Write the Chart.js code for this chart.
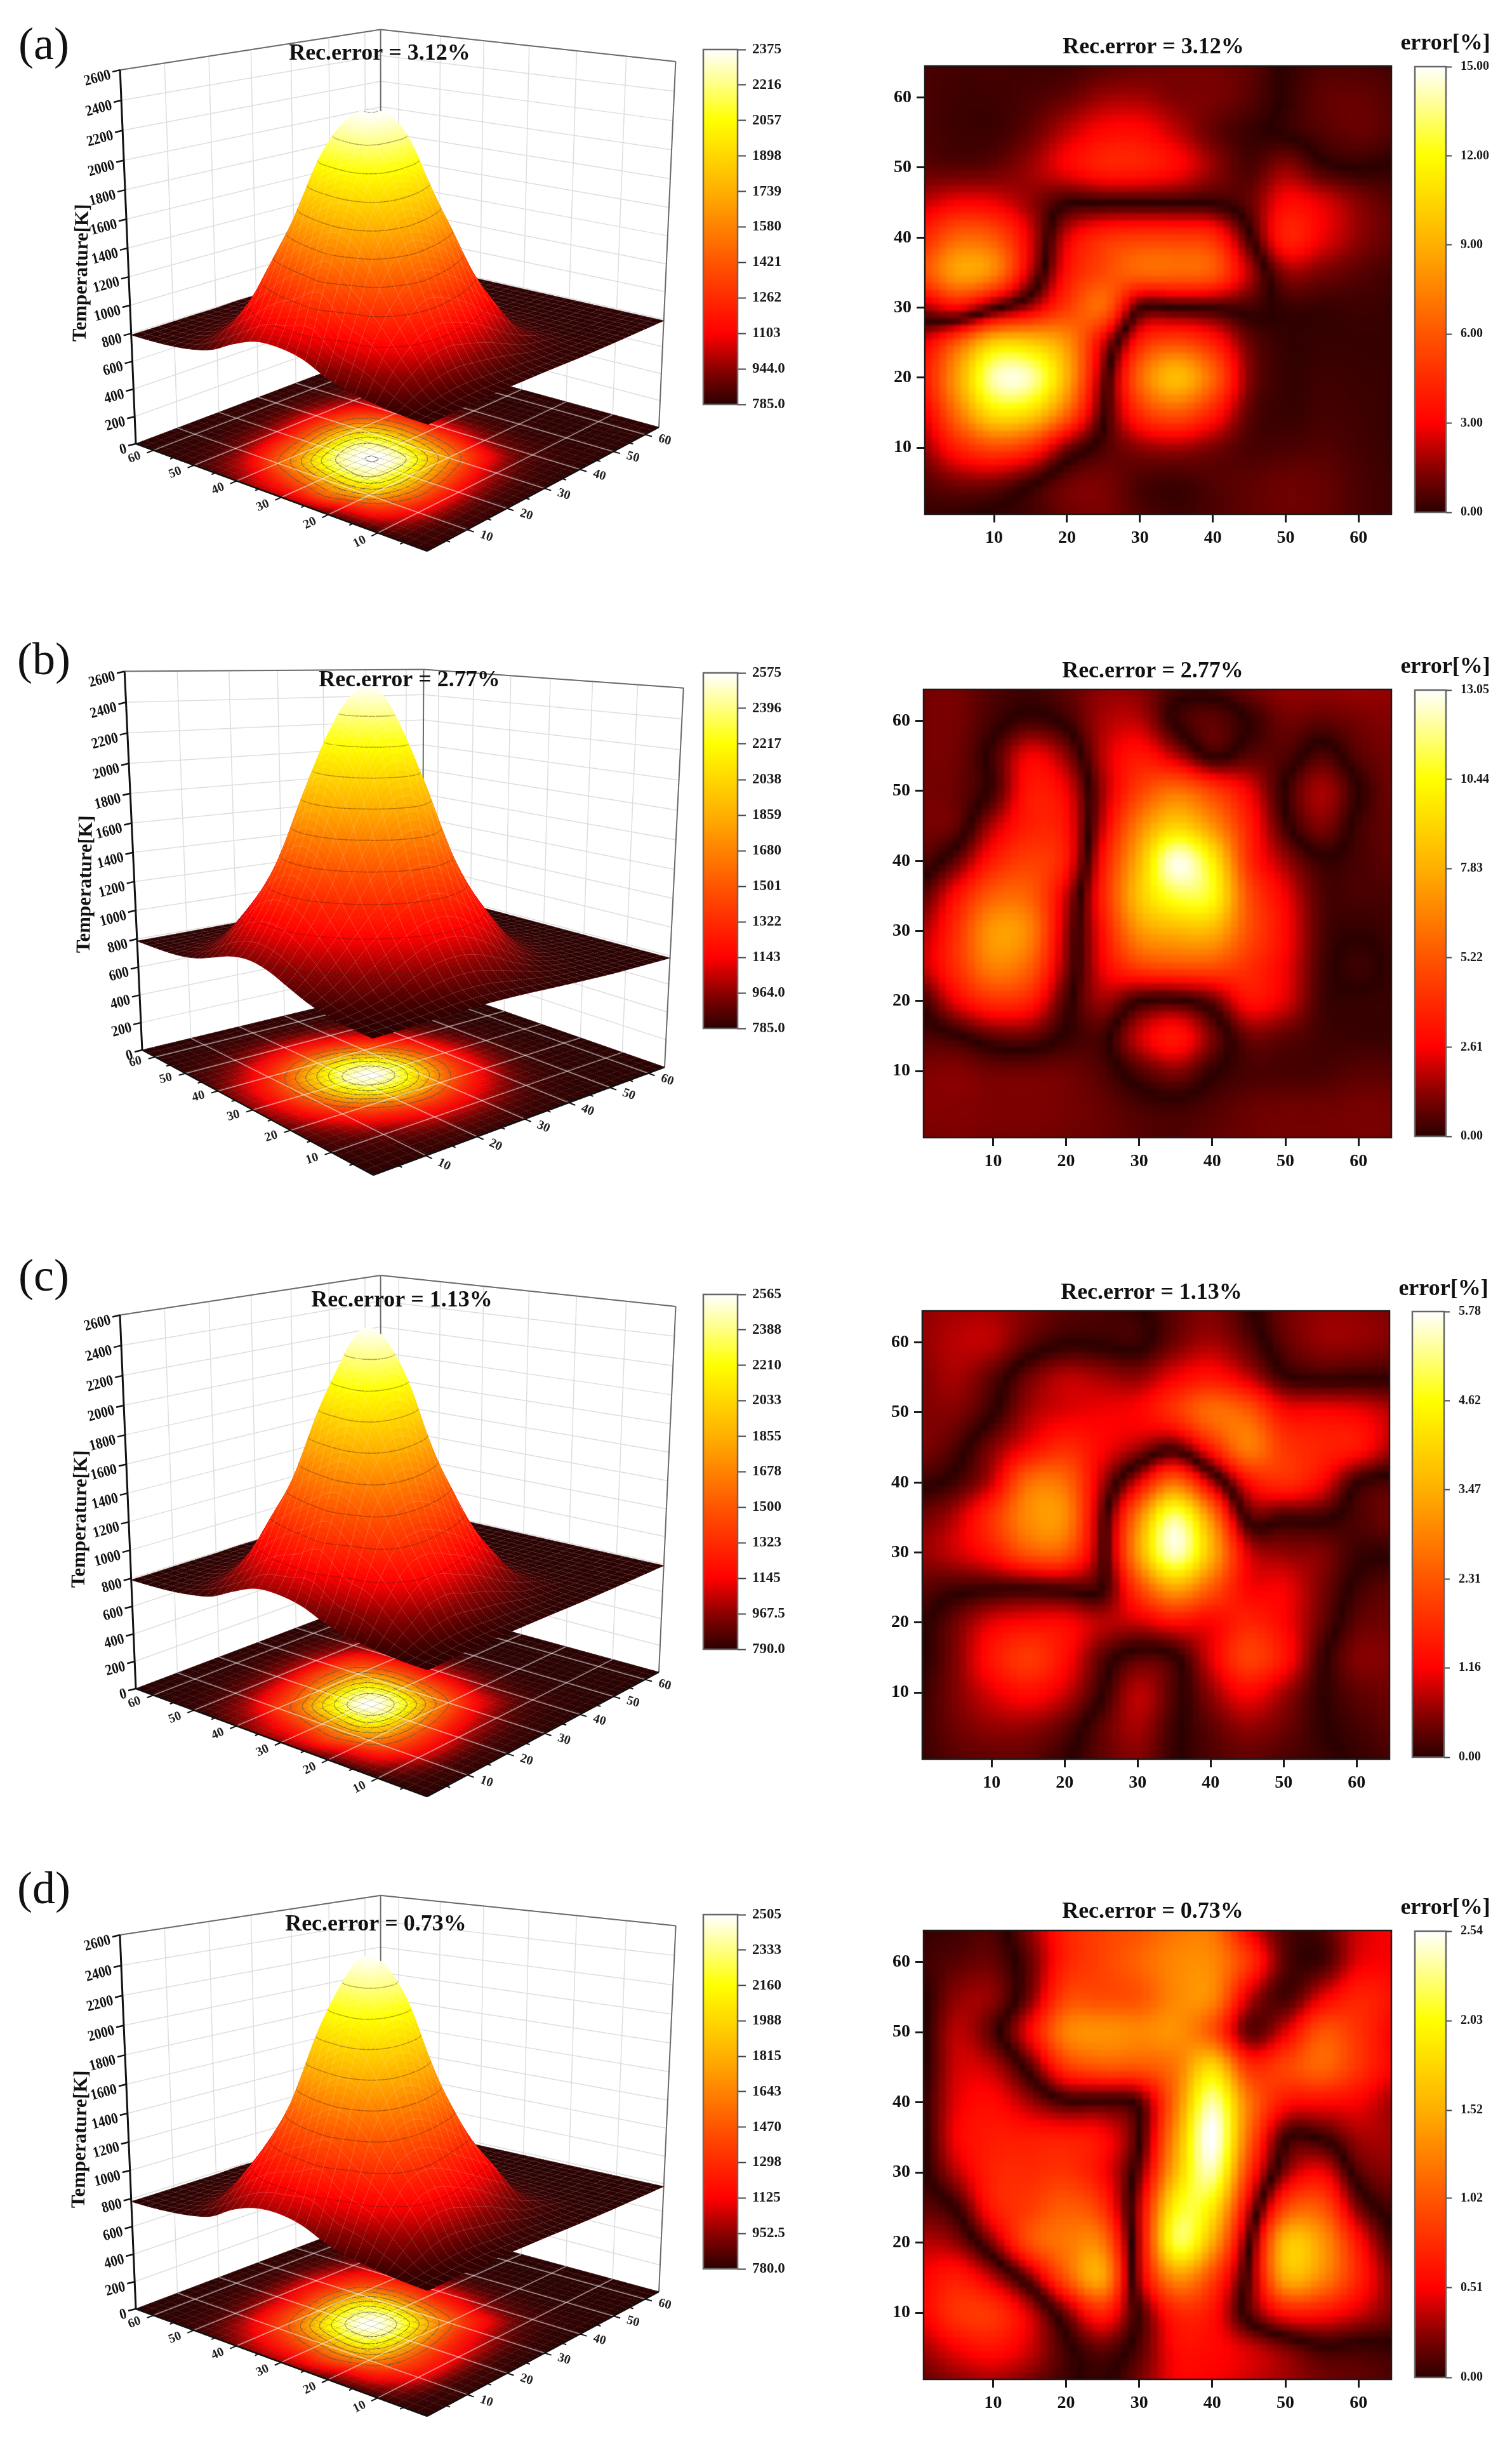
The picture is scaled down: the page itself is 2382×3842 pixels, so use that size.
<!DOCTYPE html>
<html><head><meta charset="utf-8">
<style>html,body{margin:0;padding:0;background:#fff;width:2382px;height:3842px;overflow:hidden}canvas{position:absolute;display:block}</style>
<script src="https://cdn.jsdelivr.net/npm/chart.js@4"></script>
</head><body>
<script>
// ---------- values ----------
const gridX=[0,5,10,15,20,25,30,35,40,45,50,55,60,65];
const gridY=[65,60,55,50,45,40,35,30,25,20,15,10,5,0];
const axisTicks=[10,20,30,40,50,60];
const tempAxisTicks=[0,200,400,600,800,1000,1200,1400,1600,1800,2000,2200,2400,2600];

const tempLabelsA=['785.0','944.0','1103','1262','1421','1580','1739','1898','2057','2216','2375'];
const tempLabelsB=['785.0','964.0','1143','1322','1501','1680','1859','2038','2217','2396','2575'];
const tempLabelsC=['790.0','967.5','1145','1323','1500','1678','1855','2033','2210','2388','2565'];
const tempLabelsD=['780.0','952.5','1125','1298','1470','1643','1815','1988','2160','2333','2505'];
const errLabelsA=['0.00','3.00','6.00','9.00','12.00','15.00'];
const errLabelsB=['0.00','2.61','5.22','7.83','10.44','13.05'];
const errLabelsC=['0.00','1.16','2.31','3.47','4.62','5.78'];
const errLabelsD=['0.00','0.51','1.02','1.52','2.03','2.54'];
const recErrors=['3.12%','2.77%','1.13%','0.73%'];
const panelNames=['(a)','(b)','(c)','(d)'];

// temperature [K], rows y=65..0, columns x=0..65
const tempA=[
[790,790,791,792,792,797,795,796,795,793,791,790,790,790],
[791,793,796,801,804,810,812,813,808,804,798,792,790,790],
[798,805,816,836,851,872,885,872,851,827,806,794,790,790],
[815,849,897,966,1024,1086,1103,1046,966,865,815,797,791,790],
[850,978,1122,1268,1358,1444,1420,1305,1086,902,823,799,791,790],
[930,1103,1428,1647,1801,1880,1782,1484,1173,934,825,800,791,790],
[985,1238,1614,2049,2225,2233,1987,1565,1192,922,823,798,790,790],
[985,1320,1763,2191,2370,2310,1971,1508,1122,890,812,795,790,790],
[945,1404,1830,2205,2290,2220,1840,1420,1075,865,808,793,790,790],
[875,1240,1724,1933,1933,1811,1606,1260,966,839,803,792,790,790],
[830,1150,1380,1516,1476,1380,1238,1097,890,817,797,791,790,790],
[810,980,1100,1140,1103,1046,962,887,842,805,793,790,790,790],
[800,830,860,870,860,845,830,812,803,797,791,790,790,790],
[796,800,804,806,804,802,800,796,792,791,790,790,790,790]];
const tempB=[
[785,786,788,790,792,792,791,788,786,785,785,785,785,785],
[788,792,797,804,808,808,805,799,794,789,785,785,785,785],
[794,805,823,852,875,877,855,830,807,795,789,785,785,785],
[806,842,909,1011,1080,1085,1027,933,852,811,795,787,785,785],
[832,929,1100,1250,1368,1384,1274,1130,957,846,804,791,785,785],
[877,1058,1286,1580,1834,1857,1632,1343,1105,900,818,795,787,785],
[925,1155,1484,1948,2286,2318,2016,1562,1208,961,832,798,786,785],
[945,1190,1562,2075,2485,2540,2172,1650,1250,985,840,800,787,785],
[925,1155,1484,1948,2286,2318,2016,1562,1208,961,832,798,786,785],
[877,1058,1286,1580,1834,1857,1632,1343,1105,900,818,795,787,785],
[832,929,1100,1250,1368,1384,1274,1130,957,846,804,791,785,785],
[806,842,909,1011,1080,1085,1027,933,852,811,795,787,785,785],
[794,805,823,852,875,877,855,830,807,795,789,785,785,785],
[788,792,797,804,808,808,805,799,794,789,785,785,785,785]];
const tempC=[
[790,790,791,791,791,795,794,794,793,792,791,790,790,790],
[791,792,795,799,802,807,808,809,805,802,797,791,790,790],
[797,803,813,831,845,862,870,862,845,822,804,792,790,790],
[812,843,883,938,992,1045,1060,1000,938,855,811,796,791,790],
[840,948,1079,1202,1319,1410,1385,1280,1040,884,818,796,791,790],
[915,1060,1360,1551,1740,1785,1720,1400,1117,917,820,797,791,790],
[975,1183,1525,2007,2239,2257,1926,1466,1137,900,818,795,790,790],
[975,1248,1670,2192,2546,2410,1914,1412,1076,874,808,793,790,790],
[935,1321,1740,2211,2374,2230,1750,1335,1035,854,804,792,790,790],
[870,1180,1630,1856,1856,1720,1508,1196,939,832,799,792,790,790],
[828,1110,1356,1419,1384,1300,1176,1055,874,813,795,791,790,790],
[808,950,1082,1115,1060,1010,935,872,835,802,793,790,790,790],
[798,825,855,862,852,840,826,810,802,796,791,790,790,790],
[794,798,802,804,802,800,798,795,792,791,790,790,790,790]];
const tempD=[
[780,780,781,782,783,789,787,788,786,784,782,780,780,780],
[781,783,788,793,796,802,805,806,800,796,789,783,780,780],
[790,797,808,828,845,865,880,865,845,820,799,785,780,780],
[806,845,892,961,1021,1087,1105,1045,961,860,808,789,781,780],
[838,973,1120,1228,1284,1360,1336,1252,1087,897,817,791,781,780],
[925,1105,1344,1565,1730,1814,1709,1398,1160,929,820,792,781,780],
[975,1210,1530,2005,2228,2243,1935,1478,1175,917,817,789,781,780],
[980,1261,1688,2183,2488,2375,1925,1421,1120,885,805,786,780,780],
[940,1321,1762,2201,2344,2220,1772,1336,1075,860,801,784,780,780],
[870,1200,1646,1875,1875,1740,1521,1224,961,834,795,782,780,780],
[825,1120,1360,1429,1390,1298,1210,1099,885,811,788,781,780,780],
[805,970,1125,1155,1105,1045,957,882,837,797,784,780,780,780],
[795,820,850,858,848,835,820,803,795,788,781,780,780,780],
[786,790,795,797,795,792,790,786,783,781,780,780,780,780]];

// reconstruction error [%]; the sign marks the two sides of each dark zero line, the plot shows the magnitude
const errA=[
[-.5,-.4,-.4,-.3,-.3,-.6,-.9,-1.1,-1.1,-.8,.1,.5,.5,.4],
[-.5,-.3,-.3,-.5,-.9,-1.7,-1.8,-1.3,-1.2,-.7,.1,.8,.9,.6],
[-.5,-.3,-.3,-.9,-2.2,-3.2,-3.3,-2.2,-.9,-.25,.1,.6,.9,.6],
[-.8,-.7,-.9,-1.7,-3,-4,-4,-3.2,-1.6,-.5,-1.5,-.3,.05,-.1],
[-2.2,-3,-2.8,-1.6,-.1,-.05,-.05,-.05,-.05,-.9,-3.2,-2.6,-1.4,-.7],
[-4.2,-6.5,-6,-2.5,2.5,4.5,5,5,4.5,.3,-4,-2.8,-1.5,-.8],
[-5.5,-8.5,-7.5,-2,3.5,5.5,6.5,6.5,6,2,-1.5,-1.2,-.7,-.4],
[-1.7,-3,-.4,2,5,6.5,.3,.1,.2,.4,-.2,-.2,-.3,-.2],
[2.5,6,10,10,8,2.5,-4,-5.5,-4,-1,-.15,-.2,-.2,-.2],
[3.5,8.5,14,14,9,1,-6.5,-9.5,-6.5,-1.4,-.2,-.3,-.25,-.2],
[2.5,7,11,10.5,6.5,.3,-4.5,-6,-4,-.8,-.2,-.4,-.3,-.2],
[1.5,4,5.5,4.5,1.2,-.5,-1.5,-1.8,-1.2,-.5,-.5,-.6,-.4,-.2],
[.6,1.2,1.2,.2,-1,-1.2,-.5,-.3,-.6,-.8,-1,-.9,-.5,-.3],
[.2,.05,-.2,-.4,-1,-1.2,-.6,-.3,-.5,-.8,-1,-.9,-.5,-.3]];
const errB=[
[-1,-1,-.5,-.3,-.7,-1.3,-1.2,-.4,-.4,-1,-1.4,-1.4,-1.5,-1.4],
[-1,-1,-.3,.3,-.2,-1.6,-1.8,.1,.7,-.05,-.9,-.7,-1,-1.2],
[-1,-.9,.3,2.5,1.3,-1.8,-3.2,-1.8,.1,-.6,-.5,.5,-.6,-1],
[-1,-.8,.3,3.2,2.5,-1.5,-4.5,-6,-4.5,-2.5,.1,1.6,.05,-1],
[-1,-.7,1.8,3.5,3,-2,-6.5,-9,-7,-3.5,-.3,1.1,-.3,-.8],
[-.6,.8,3.4,4.5,3.2,-3,-8,-12.8,-10,-4,-1.5,-.15,-.4,-.7],
[.5,3,5.5,5.5,2,-3.5,-8.5,-11,-10.5,-5,-2.5,-.5,-.4,-.4],
[1.5,4,7.2,6.5,1.5,-3,-7,-8,-8,-5,-2.8,-.5,-.1,-.3],
[1.8,4,6.5,5.5,1.2,-2.5,-4.5,-5,-5,-4,-2.5,-.4,.25,-.2],
[.2,2.5,4,3.5,.4,-1.5,-.1,.15,-.8,-3,-2.2,-.3,-.15,-.2],
[-.5,-.1,.7,.8,-.1,-.3,2,3.2,1,-.9,-.7,-.3,-.2,-.2],
[-1.1,-1.2,-.9,-.9,-.9,-.5,.5,1.2,.1,-.4,-.4,-.4,-.6,-.6],
[-1.2,-1.2,-1.1,-1.1,-1,-.8,-.4,-.25,-.5,-.8,-.9,-.9,-1,-1],
[-1,-1.1,-1,-1,-.9,-.8,-.6,-.5,-.7,-.9,-1,-1,-1,-1]];
const errC=[
[.6,.7,.7,.5,.3,.2,.05,-.3,-.5,-.1,.4,.6,.6,.5],
[.6,.8,.8,.3,.03,.05,.1,-.4,-.7,-.3,.3,.6,.6,.5],
[.5,.7,.3,-.4,-.8,-.7,-.6,-1.1,-1.4,-.9,-.1,.08,.05,.05],
[.5,.5,.05,-.7,-1,-1.1,-1.2,-1.8,-2.6,-2.4,-1.3,-1.2,-1.1,-.8],
[.5,.2,-.5,-1.2,-1.7,-1.2,-.7,-.2,-1.5,-2.8,-1.9,-1.6,-1.4,-.7],
[.1,-.15,-.9,-2.6,-2.6,-.8,1,2.6,.8,-1.2,-1.7,-1.2,-.05,.2],
[-.4,-.8,-1.8,-3,-3,-.4,2.8,5.2,3,-.1,-.1,-.1,.2,.4],
[-.6,-.9,-1.4,-2.3,-2.3,-.3,3.2,5.5,3.6,1,.6,.5,.1,.05],
[-.3,-.15,-.1,-.1,-.2,-.05,2,3.4,2.4,1.2,1.1,.5,-.1,-.3],
[-.1,.4,1,1.2,1.2,.8,.9,1.3,1.2,1.6,1.2,.4,-.3,-.4],
[-.05,.5,1.4,1.9,1.3,.3,-.25,-.05,1,2,1.4,.15,-.5,-.5],
[.05,.5,1,1.3,.9,.05,-.8,-.2,.6,1.2,.7,.05,-.3,-.4],
[.1,.4,.6,.6,.3,-.3,-.7,-.1,.3,.6,.4,.05,-.15,-.3],
[.1,.25,.3,.3,.05,-.3,-.5,-.05,.2,.3,.2,.1,-.05,-.15]];
const errD=[
[-.03,-.05,-.08,.25,.7,.9,1,1.2,1.2,.5,.1,.1,.4,.5],
[-.05,-.12,-.15,.15,.7,.9,1.1,1.3,1.3,.8,.12,.06,.45,.5],
[.03,-.25,-.25,.2,.9,.95,1,1.3,1.3,.4,.07,.45,.7,.6],
[.05,-.35,-.1,.5,1.25,1.35,1.3,1.35,1,.15,.45,1,.8,.5],
[.05,-.4,-.35,.1,.8,1,1,1.2,1.8,.8,.9,1.1,.8,.5],
[.02,-.45,-.55,-.3,-.05,-.05,.1,1.2,2.35,1.2,.6,.55,.5,.3],
[.05,-.5,-.65,-.65,-.65,-.55,-.02,1.4,2.55,1.1,.05,.03,.3,.3],
[.05,-.35,-.7,-.75,-.8,-.55,.15,1.6,2.35,.8,-.25,-.5,.1,.25],
[.15,-.03,-.65,-.85,-1.05,-.8,.35,2,1.9,.4,-.9,-1,-.2,.1],
[.35,.25,-.25,-.95,-1.2,-1.2,.35,2.15,1.5,.05,-1.6,-1.4,-.6,-.02],
[.5,.65,.35,-.2,-1,-1.45,.3,1.35,.9,-.1,-1.5,-1.3,-.7,-.2],
[.5,.8,.8,.4,-.2,-.7,.05,.7,.6,-.1,-.6,-.6,-.4,-.2],
[.3,.5,.6,.4,.05,-.15,.1,.55,.55,.4,.2,.03,.05,.03],
[.15,.25,.3,.2,.05,-.02,.2,.5,.5,.4,.3,.2,.15,.1]];

// ---------- layout (page pixels) ----------
const serif='"Liberation Serif","Times New Roman",serif';
const layout3D=[
 {top:0,  F:[673,868], R:[1038,673], B:[600,553], L:[214,699], Lt:[189,110], Bt:[600,44], Rt:[1064,100], bar:[1107,78,1162,637], title:[598,85], name:[69,74], zlab:[129,430]},
 {top:985,F:[588,1851],R:[1047,1681],B:[665,1548],L:[224,1654],Lt:[200,1080],Bt:[665,1026],Rt:[1076,1096],bar:[1107,1060,1162,1620],title:[645,1072],name:[69,1043],zlab:[135,1393]},
 {top:1960,F:[673,2830],R:[1038,2634],B:[600,2514],L:[214,2660],Lt:[189,2072],Bt:[600,2005],Rt:[1064,2062],bar:[1107,2039,1162,2598],title:[633,2049],name:[69,2014],zlab:[127,2393]},
 {top:2940,F:[673,3806],R:[1038,3610],B:[600,3491],L:[214,3637],Lt:[189,3048],Bt:[600,2981],Rt:[1064,3039],bar:[1107,3016,1162,3574],title:[592,3032],name:[69,2979],zlab:[127,3370]}];
const layoutHeat=[
 {box:[1457,104,2192,810],bar:[2228,105,2278,809],title:[1817,75],err:[2277,69]},
 {box:[1455,1086,2192,1792],bar:[2228,1087,2278,1792],title:[1816,1058],err:[2277,1051]},
 {box:[1453,2065,2189,2771],bar:[2224,2066,2275,2770],title:[1814,2037],err:[2274,2031]},
 {box:[1455,3041,2192,3748],bar:[2228,3042,2278,3747],title:[1816,3012],err:[2277,3006]}];

// ---------- helpers ----------
const stops=[[0,[42,0,0]],[.1,[140,0,0]],[.2,[255,0,0]],[.4,[255,85,0]],[.6,[255,175,0]],[.8,[255,255,0]],[.9,[255,255,130]],[1,[255,255,255]]];
function cmap(t){t=Math.max(0,Math.min(1,t));for(let i=1;i<stops.length;i++){if(t<=stops[i][0]){const a=stops[i-1],b=stops[i],k=(t-a[0])/(b[0]-a[0]);return [0,1,2].map(c=>Math.round(a[1][c]+(b[1][c]-a[1][c])*k));}}return [255,255,255];}
const css=c=>'rgb('+c[0]+','+c[1]+','+c[2]+')';
function cr(p0,p1,p2,p3,t){return .5*(2*p1+(p2-p0)*t+(2*p0-5*p1+4*p2-p3)*t*t+(3*p1-p0-3*p2+p3)*t*t*t);}
function sampleGrid(g,x,y){ // smooth rendering of the read table at display resolution
 const n=g.length-1,m=g[0].length-1,cx=Math.min(m-1e-6,x/5),cy=Math.min(n-1e-6,(65-y)/5),ix=Math.floor(cx),iy=Math.floor(cy),tx=cx-ix,ty=cy-iy,row=[];
 for(let r=-1;r<=2;r++){const R=g[Math.max(0,Math.min(n,iy+r))],c=k=>R[Math.max(0,Math.min(m,ix+k))];row.push(cr(c(-1),c(0),c(1),c(2),tx));}
 return cr(row[0],row[1],row[2],row[3],ty);}
function gridPoints(g){const o=[];g.forEach((r,i)=>r.forEach((v,j)=>o.push({x:gridX[j],y:gridY[i],v})));return o;}
function textItems(items){return {id:'textItems',afterDraw(ch){const c=ch.ctx;for(const t of items){c.save();c.fillStyle=t.color||'#111';c.font=t.font;c.textAlign='center';c.textBaseline='middle';c.translate(t.x-ch.canvas.offsetLeft,t.y-ch.canvas.offsetTop);if(t.rot)c.rotate(t.rot);c.fillText(t.text,0,0);c.restore();}}};}
function place(left,top,w,h){const cv=document.createElement('canvas');cv.width=w;cv.height=h;cv.style.left=left+'px';cv.style.top=top+'px';cv.style.width=w+'px';cv.style.height=h+'px';document.body.appendChild(cv);return cv;}

// projection: floor homography plus a vertical column fitted to the three top corners
function camera(l){
 const [x0,y0]=l.F,[x1,y1]=l.R,[x2,y2]=l.B,[x3,y3]=l.L;
 const dx1=x1-x2,dx2=x3-x2,sx=x0-x1+x2-x3,dy1=y1-y2,dy2=y3-y2,sy=y0-y1+y2-y3,den=dx1*dy2-dx2*dy1;
 const g=(sx*dy2-dx2*sy)/den,h=(dx1*sy-sx*dy1)/den;
 const H=[[x1-x0+g*x1,x3-x0+h*x3,x0],[y1-y0+g*y1,y3-y0+h*y3,y0],[g,h,1]];
 const base=(a,b)=>[H[0][0]*a+H[0][1]*b+H[0][2],H[1][0]*a+H[1][1]*b+H[1][2],H[2][0]*a+H[2][1]*b+H[2][2]];
 const rows=[],rhs=[];
 [[0,1,l.Lt],[1,1,l.Bt],[1,0,l.Rt]].forEach(([a,b,T])=>{const P=base(a,b);rows.push([1,0,-T[0]]);rhs.push(T[0]*P[2]-P[0]);rows.push([0,1,-T[1]]);rhs.push(T[1]*P[2]-P[1]);});
 const M=[[0,0,0,0],[0,0,0,0],[0,0,0,0]];
 rows.forEach((r,k)=>{for(let i=0;i<3;i++){for(let j=0;j<3;j++)M[i][j]+=r[i]*r[j];M[i][3]+=r[i]*rhs[k];}});
 for(let i=0;i<3;i++){let p=i;for(let k=i+1;k<3;k++)if(Math.abs(M[k][i])>Math.abs(M[p][i]))p=k;[M[i],M[p]]=[M[p],M[i]];for(let k=0;k<3;k++)if(k!==i){const f=M[k][i]/M[i][i];for(let j=i;j<4;j++)M[k][j]-=f*M[i][j];}}
 const C=[M[0][3]/M[0][0],M[1][3]/M[1][1],M[2][3]/M[2][2]];
 return (u,v,T)=>{const P=base((u-.5)/64,(v-.5)/64),z=T/2600,w=P[2]+z*C[2];return [(P[0]+z*C[0])/w,(P[1]+z*C[1])/w];};
}

// ---------- 3D panel ----------
function surfacePlugin(grid,labels,l){
 const proj=camera(l),vals=labels.map(Number),lo=vals[0],hi=vals[vals.length-1],N=128,du=64/N;
 const T=[];for(let i=0;i<=N;i++){T.push([]);for(let j=0;j<=N;j++)T[i].push(Math.max(lo,sampleGrid(grid,.5+i*du,.5+j*du)));}
 return {id:'surface',beforeDatasetsDraw(ch){
  const c=ch.ctx,sx=ch.scales.x,sy=ch.scales.y;
  const XY=(u,v,t)=>{const p=proj(u,v,t);return [sx.getPixelForValue(p[0]),sy.getPixelForValue(p[1])];};
  const line=(a,b,col,w)=>{c.strokeStyle=col;c.lineWidth=w;c.beginPath();c.moveTo(a[0],a[1]);c.lineTo(b[0],b[1]);c.stroke();};
  c.save();c.lineCap='butt';c.lineJoin='round';
  // back walls
  for(const z of tempAxisTicks){line(XY(.5,64.5,z),XY(64.5,64.5,z),'#dedede',1.5);line(XY(64.5,64.5,z),XY(64.5,.5,z),'#dedede',1.5);}
  for(const k of axisTicks){line(XY(k,64.5,0),XY(k,64.5,2600),'#dedede',1.5);line(XY(64.5,k,0),XY(64.5,k,2600),'#dedede',1.5);}
  const gr='#6a6a6a';
  line(XY(.5,64.5,2600),XY(64.5,64.5,2600),gr,2);line(XY(64.5,64.5,2600),XY(64.5,.5,2600),gr,2);
  line(XY(64.5,.5,0),XY(64.5,.5,2600),gr,2);line(XY(64.5,64.5,0),XY(64.5,64.5,2600),gr,2);
  // quads, far to near
  const contour=(i,j,q,z,minLevel,col,w)=>{const a=q[0],b=q[1],d=q[2],e=q[3],mn=Math.min(a,b,d,e),mx=Math.max(a,b,d,e);
   for(let n=minLevel;n<vals.length;n++){const L=vals[n];if(L<mn||L>mx)continue;const pts=[];
    const add=(v1,v2,u1,w1,u2,w2)=>{if((v1<L)!==(v2<L)){const k=(L-v1)/(v2-v1);pts.push([u1+(u2-u1)*k,w1+(w2-w1)*k]);}};
    add(a,b,i,j,i+1,j);add(b,d,i+1,j,i+1,j+1);add(d,e,i+1,j+1,i,j+1);add(e,a,i,j+1,i,j);
    if(pts.length>=2){const h=z===null?L:z;line(XY(.5+pts[0][0]*du,.5+pts[0][1]*du,h),XY(.5+pts[1][0]*du,.5+pts[1][1]*du,h),col,w);}
   }};
  const drawQuads=(useZ)=>{
   for(let i=N-1;i>=0;i--)for(let j=N-1;j>=0;j--){
    const q=[T[i][j],T[i+1][j],T[i+1][j+1],T[i][j+1]],m=(q[0]+q[1]+q[2]+q[3])/4,col=css(cmap((m-lo)/(hi-lo)));
    const h=k=>useZ?q[k]:0,U=.5+i*du,V=.5+j*du;
    const p=[XY(U,V,h(0)),XY(U+du,V,h(1)),XY(U+du,V+du,h(2)),XY(U,V+du,h(3))];
    c.fillStyle=col;c.strokeStyle=col;c.lineWidth=.8;c.beginPath();c.moveTo(p[0][0],p[0][1]);for(let k=1;k<4;k++)c.lineTo(p[k][0],p[k][1]);c.closePath();c.fill();c.stroke();
    const mesh=useZ?'rgba(255,255,255,.2)':'rgba(110,90,90,.34)';
    if((i+1)%4===0)line(p[1],p[2],mesh,1);
    if((j+1)%4===0)line(p[3],p[2],mesh,1);
    if(useZ)contour(i,j,q,null,1,'rgba(70,35,0,.42)',1.5);else contour(i,j,q,0,4,'rgba(85,85,65,.75)',1.5);
   }};
  drawQuads(false);
  for(const k of axisTicks){line(XY(k,.5,0),XY(k,64.5,0),'rgba(255,255,255,.5)',1.8);line(XY(.5,k,0),XY(64.5,k,0),'rgba(255,255,255,.5)',1.8);}
  // front floor edges with ticks
  const F=XY(.5,.5,0);line(F,XY(.5,64.5,0),'#111',2.5);line(F,XY(64.5,.5,0),'#111',2.5);
  const minor=[5,15,25,35,45,55];
  const outward=(a,b,len)=>{const dx=b[0]-a[0],dy=b[1]-a[1],n=Math.hypot(dx,dy);return [dx/n*len,dy/n*len];};
  c.font='bold 20px '+serif;c.textAlign='center';c.textBaseline='middle';
  const edgeTick=(k,major,leftEdge)=>{
   const e=leftEdge?XY(.5,k,0):XY(k,.5,0),i=leftEdge?XY(10.5,k,0):XY(k,10.5,0),o=outward(i,e,major?11:6);
   line(e,[e[0]+o[0],e[1]+o[1]],'#111',2);
   if(major){const d=outward(i,e,32),ang=Math.atan2(leftEdge?-d[1]:d[1],leftEdge?-d[0]:d[0]);
    c.save();c.translate(e[0]+d[0],e[1]+d[1]);c.rotate(ang);c.fillStyle='#222';c.fillText(String(k),0,0);c.restore();}
  };
  for(const k of axisTicks){edgeTick(k,true,true);edgeTick(k,true,false);}
  for(const k of minor){edgeTick(k,false,true);edgeTick(k,false,false);}
  drawQuads(true);
  // temperature axis
  line(XY(.5,64.5,0),XY(.5,64.5,2600),'#111',3);
  c.font='bold 24px '+serif;c.textAlign='right';
  for(const z of tempAxisTicks){const p=XY(.5,64.5,z);line(p,[p[0]-12,p[1]+3],'#111',2.5);
   c.save();c.translate(p[0]-15,p[1]+8);c.rotate(-.26);c.scale(.88,1);c.fillStyle='#111';c.fillText(String(z),0,0);c.restore();}
  c.restore();
 }};
}
function make3D(idx,grid,labels){
 const l=layout3D[idx],w=1100,h=950,cv=place(0,l.top,w,h),proj=camera(l);
 const pts=gridPoints(grid).map(p=>{const q=proj(p.x,p.y,p.v);return {x:q[0],y:q[1]};});
 new Chart(cv,{type:'scatter',data:{datasets:[{data:pts,pointRadius:0,showLine:false}]},
  options:{responsive:false,animation:false,events:[],devicePixelRatio:1,layout:{padding:0},
   plugins:{legend:{display:false},tooltip:{enabled:false}},
   scales:{x:{type:'linear',display:false,min:0,max:w},y:{type:'linear',display:false,reverse:true,min:l.top,max:l.top+h}}},
  plugins:[surfacePlugin(grid,labels,l),textItems([
   {text:panelNames[idx],x:l.name[0],y:l.name[1],font:'72px '+serif},
   {text:'Rec.error = '+recErrors[idx],x:l.title[0],y:l.title[1],font:'bold 36px '+serif},
   {text:'Temperature[K]',x:l.zlab[0],y:l.zlab[1],font:'bold 31px '+serif,rot:-1.55}])]});
 makeBar(l.bar,labels,23,13,10,[]);
}

// ---------- colour bars ----------
function makeBar(b,labels,fontSize,tick,pad,extra){
 const vals=labels.map(Number),lo=vals[0],hi=vals[vals.length-1];
 const margin=40,W=170,barW=b[2]-b[0],top=Math.max(0,b[1]-60),h=b[3]-top+24,cv=place(b[0]-margin,top,W,h);
 new Chart(cv,{type:'bar',data:{labels:[''],datasets:[{data:[[lo,hi]],barPercentage:1,categoryPercentage:1,borderWidth:0,
   backgroundColor(ctx){const a=ctx.chart.chartArea;if(!a)return '#000';const g=ctx.chart.ctx.createLinearGradient(0,a.bottom,0,a.top);for(let i=0;i<=40;i++)g.addColorStop(i/40,css(cmap(i/40)));return g;}}]},
  options:{responsive:false,animation:false,events:[],devicePixelRatio:1,layout:{padding:{top:b[1]-top,bottom:24,left:margin,right:0}},
   plugins:{legend:{display:false},tooltip:{enabled:false}},
   scales:{x:{display:false},y:{position:'right',min:lo,max:hi,
    afterBuildTicks(s){s.ticks=vals.map(v=>({value:v}));},
    afterFit(s){s.width=W-margin-barW;},
    border:{display:false},grid:{drawOnChartArea:false,drawTicks:true,tickLength:tick,tickWidth:2,tickColor:'#444'},
    ticks:{autoSkip:false,padding:pad,color:'#1a1a1a',font:{family:serif,weight:'bold',size:fontSize},callback:(v,i)=>labels[i]}}}},
  plugins:[{id:'barFrame',afterDraw(ch){const a=ch.chartArea,c=ch.ctx;c.save();c.strokeStyle='#666';c.lineWidth=2.5;c.strokeRect(a.left+1,a.top,a.right-a.left-1,a.bottom-a.top);c.restore();}},textItems(extra)]});
}

// ---------- heat map ----------
function heatPlugin(labels){
 const top=Number(labels[labels.length-1]);
 return {id:'heat',beforeDatasetsDraw(ch){
  const g=ch.data.datasets[0].grid,off=document.createElement('canvas');off.width=64;off.height=64;
  const oc=off.getContext('2d'),im=oc.createImageData(64,64);
  for(let r=0;r<64;r++)for(let k=0;k<64;k++){const col=cmap(Math.abs(sampleGrid(g,k+1,64-r))/top),q=(r*64+k)*4;im.data[q]=col[0];im.data[q+1]=col[1];im.data[q+2]=col[2];im.data[q+3]=255;}
  oc.putImageData(im,0,0);
  const c=ch.ctx,x=ch.scales.x,y=ch.scales.y,L=x.getPixelForValue(.5),R=x.getPixelForValue(64.5),T=y.getPixelForValue(64.5),B=y.getPixelForValue(.5);
  c.save();c.beginPath();c.rect(L,T,R-L,B-T);c.clip();c.imageSmoothingEnabled=false;
  c.drawImage(off,L,T,R-L,B-T);c.filter='blur(2px)';c.drawImage(off,L,T,R-L,B-T);c.restore();
 },afterDraw(ch){const a=ch.chartArea,c=ch.ctx;c.save();c.strokeStyle='#1a1a1a';c.lineWidth=2.5;c.strokeRect(a.left,a.top,a.right-a.left,a.bottom-a.top);c.restore();}};
}
function makeHeat(idx,grid,labels){
 const l=layoutHeat[idx],b=l.box,left=b[0]-100,top=b[1]-60,w=b[2]-b[0]+110,h=b[3]-b[1]+60+80,cv=place(left,top,w,h);
 const axis=(ticks)=>({type:'linear',min:.5,max:64.5,
  afterBuildTicks(s){s.ticks=ticks.map(v=>({value:v}));},
  grid:{drawOnChartArea:false,drawTicks:true,tickLength:13,tickWidth:3,tickColor:'#1a1a1a'},border:{display:false},
  ticks:{autoSkip:false,maxRotation:0,padding:8,color:'#111',font:{family:serif,weight:'bold',size:28},callback:v=>String(v)}});
 const xA=axis(axisTicks),yA=axis(axisTicks);xA.afterFit=s=>{s.height=80;};yA.afterFit=s=>{s.width=100;};
 new Chart(cv,{type:'scatter',data:{datasets:[{data:gridPoints(grid),grid:grid,pointRadius:0,showLine:false,clip:true}]},
  options:{responsive:false,animation:false,events:[],devicePixelRatio:1,layout:{padding:{top:60,right:10,left:0,bottom:0}},
   plugins:{legend:{display:false},tooltip:{enabled:false}},scales:{x:xA,y:yA}},
  plugins:[heatPlugin(labels),textItems([{text:'Rec.error = '+recErrors[idx],x:l.title[0],y:l.title[1],font:'bold 36px '+serif}])]});
 makeBar(l.bar,labels,20,9,14,[{text:'error[%]',x:l.err[0],y:l.err[1],font:'bold 36px '+serif}]);
}

make3D(0,tempA,tempLabelsA);make3D(1,tempB,tempLabelsB);make3D(2,tempC,tempLabelsC);make3D(3,tempD,tempLabelsD);
makeHeat(0,errA,errLabelsA);makeHeat(1,errB,errLabelsB);makeHeat(2,errC,errLabelsC);makeHeat(3,errD,errLabelsD);
</script>
</body></html>
